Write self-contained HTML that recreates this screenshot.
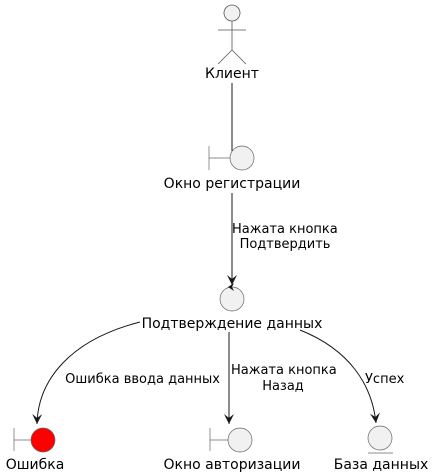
<!DOCTYPE html>
<html><head><meta charset="utf-8"><style>
html,body{margin:0;padding:0;background:#fff;}
svg{display:block;}
text{font-family:"DejaVu Sans",sans-serif;font-size:13px;fill:#000;}
text.n{font-size:14px;}
</style></head><body>
<svg width="433" height="475" viewBox="0 0 433 475" xmlns="http://www.w3.org/2000/svg">
<defs>
<marker id="ah" markerWidth="12" markerHeight="12" refX="10" refY="5" orient="auto" markerUnits="userSpaceOnUse">
<path d="M0,0 L10,5 L0,10 L4,5 Z" fill="#181818"/>
</marker>
</defs>
<g stroke="#555" stroke-width="0.8" fill="none">
<circle cx="232" cy="13" r="8" fill="#f1f1f1"/>
<line x1="232" y1="21" x2="232" y2="50"/>
<line x1="218" y1="30" x2="246" y2="30"/>
<line x1="232" y1="50" x2="218" y2="64"/>
<line x1="232" y1="50" x2="246" y2="64"/>
</g>
<text class="n" x="232" y="78" text-anchor="middle">Клиент</text>
<line x1="232" y1="83" x2="232" y2="151" stroke="#181818" stroke-width="1"/>
<g stroke="#666" stroke-width="0.7">
<line x1="209" y1="146" x2="209" y2="170"/>
<line x1="209" y1="158" x2="230" y2="158"/>
<circle cx="242" cy="158" r="12" fill="#f1f1f1"/>
</g>
<text class="n" x="232" y="188" text-anchor="middle">Окно регистрации</text>
<line x1="232" y1="193" x2="232" y2="285" stroke="#181818" stroke-width="1" marker-end="url(#ah)"/>
<text x="232" y="233">Нажата кнопка</text>
<text x="285" y="248" text-anchor="middle">Подтвердить</text>
<circle cx="232" cy="299" r="12" fill="#f1f1f1" stroke="#666" stroke-width="0.7"/>
<path d="M228,287 L234,283 L232,287 L234,291 Z" fill="#181818"/>
<text class="n" x="232" y="328" text-anchor="middle">Подтверждение данных</text>
<path d="M140,322 C70,340 38,380 37,424" fill="none" stroke="#181818" stroke-width="1" marker-end="url(#ah)"/>
<line x1="229" y1="332" x2="229" y2="424" stroke="#181818" stroke-width="1" marker-end="url(#ah)"/>
<path d="M300,330 C350,350 372,385 376,423" fill="none" stroke="#181818" stroke-width="1" marker-end="url(#ah)"/>
<text x="220" y="383" text-anchor="end">Ошибка ввода данных</text>
<text x="231" y="374">Нажата кнопка</text>
<text x="283" y="390" text-anchor="middle">Назад</text>
<text x="365" y="383">Успех</text>
<g stroke="#666" stroke-width="0.7">
<line x1="14" y1="428" x2="14" y2="451"/>
<line x1="14" y1="440" x2="31" y2="440"/>
<circle cx="43" cy="440" r="12" fill="#ff0000"/>
<line x1="210" y1="428" x2="210" y2="451"/>
<line x1="210" y1="440" x2="228" y2="440"/>
<circle cx="240" cy="440" r="12" fill="#f1f1f1"/>
<circle cx="380" cy="438" r="12" fill="#f1f1f1"/>
<line x1="368" y1="453" x2="393" y2="453"/>
</g>
<text class="n" x="35" y="469" text-anchor="middle">Ошибка</text>
<text class="n" x="232" y="469" text-anchor="middle">Окно авторизации</text>
<text class="n" x="381" y="469" text-anchor="middle">База данных</text>
</svg>
</body></html>
